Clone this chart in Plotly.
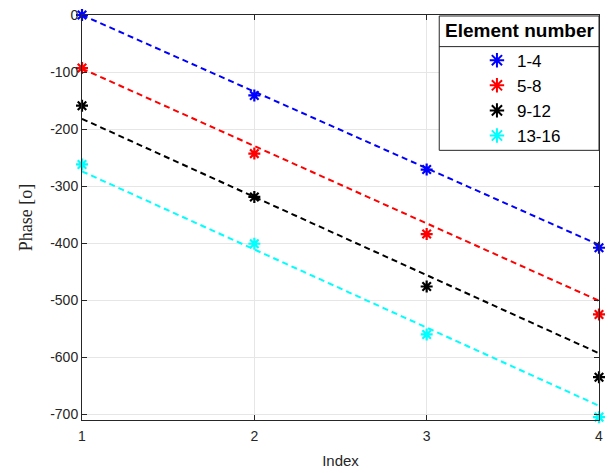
import plotly.graph_objects as go

# ---- data ----
index = [1, 2, 3, 4]
groups = ["1-4", "5-8", "9-12", "13-16"]
phase_1_4 = [0, -141, -271, -408]
phase_5_8 = [-93, -243, -384, -525]
phase_9_12 = [-159, -319, -476, -635]
phase_13_16 = [-262, -401, -560, -705]
# dashed reference lines: value at index 1 and at index 4
fit_x = [1, 4]
fit_1_4 = [0, -403]
fit_5_8 = [-94, -501]
fit_9_12 = [-182, -593]
fit_13_16 = [-274, -685]
y_ticks = [0, -100, -200, -300, -400, -500, -600, -700]
x_ticks = [1, 2, 3, 4]

colors = ["#0000FF", "#FF0000", "#000000", "#00FFFF"]
series = [phase_1_4, phase_5_8, phase_9_12, phase_13_16]
fits = [fit_1_4, fit_5_8, fit_9_12, fit_13_16]

W, H = 610, 473
ML, MR, MT, MB = 82, 7, 11, 52
PW, PH = W - ML - MR, H - MT - MB

def px(x):
    return (x - ML) / PW

def py(y):
    return 1 - (y - MT) / PH

fig = go.Figure()
for name, ys, fy, c in zip(groups, series, fits, colors):
    fig.add_trace(go.Scatter(x=fit_x, y=fy, mode="lines", showlegend=False,
                             line=dict(color=c, width=2, dash="6px,4px"),
                             hoverinfo="skip"))
for name, ys, fy, c in zip(groups, series, fits, colors):
    fig.add_trace(go.Scatter(x=index, y=ys, mode="markers", name=name,
                             cliponaxis=False,
                             marker=dict(symbol="asterisk-open", size=10,
                                         line=dict(color=c, width=2.2), color=c)))

axis_common = dict(showline=True, linecolor="#262626", linewidth=1,
                   mirror="ticks", ticks="inside", ticklen=5, tickcolor="#262626",
                   showgrid=True, gridcolor="#E6E6E6", gridwidth=1, zeroline=False,
                   tickfont=dict(family="Liberation Sans, Arial", size=14, color="#262626"))

fig.update_layout(
    width=W, height=H,
    margin=dict(l=ML, r=MR, t=MT, b=MB),
    paper_bgcolor="white", plot_bgcolor="white",
    font=dict(family="Liberation Sans, Arial", color="#262626"),
    xaxis=dict(range=[1, 4], tickvals=x_ticks, ticktext=[str(v) for v in x_ticks],
               ticklabelstandoff=3,
               title=dict(text="Index", font=dict(size=15), standoff=12), **axis_common),
    yaxis=dict(range=[-710, 0], tickvals=y_ticks, ticktext=[str(v) for v in y_ticks],
               title=dict(text="Phase [o]", font=dict(family="Liberation Serif, Times New Roman",
                                                      size=18), standoff=12),
               **axis_common),
    legend=dict(x=px(480), y=py(39), xanchor="left", yanchor="top",
                bgcolor="rgba(0,0,0,0)", borderwidth=0,
                font=dict(size=17, color="#000000", family="Liberation Sans, Arial"),
                itemsizing="constant"),
    showlegend=True,
)

# legend frame, title and separator
fig.add_shape(type="rect", xref="paper", yref="paper",
              x0=px(442), x1=px(603), y0=py(148), y1=py(12),
              line=dict(color="#262626", width=1), fillcolor="white", layer="above")
fig.add_shape(type="line", xref="paper", yref="paper",
              x0=px(442), x1=px(603), y0=py(43), y1=py(43),
              line=dict(color="#262626", width=1), layer="above")
fig.add_annotation(xref="paper", yref="paper", x=px(522.5), y=py(27),
                   text="<b>Element number</b>", showarrow=False,
                   font=dict(size=19, color="#000000", family="Liberation Sans, Arial"),
                   xanchor="center", yanchor="middle")

fig.write_html("out.html", config={"displayModeBar": False},
               post_script="document.body.style.margin='0';document.body.style.padding='0';")
